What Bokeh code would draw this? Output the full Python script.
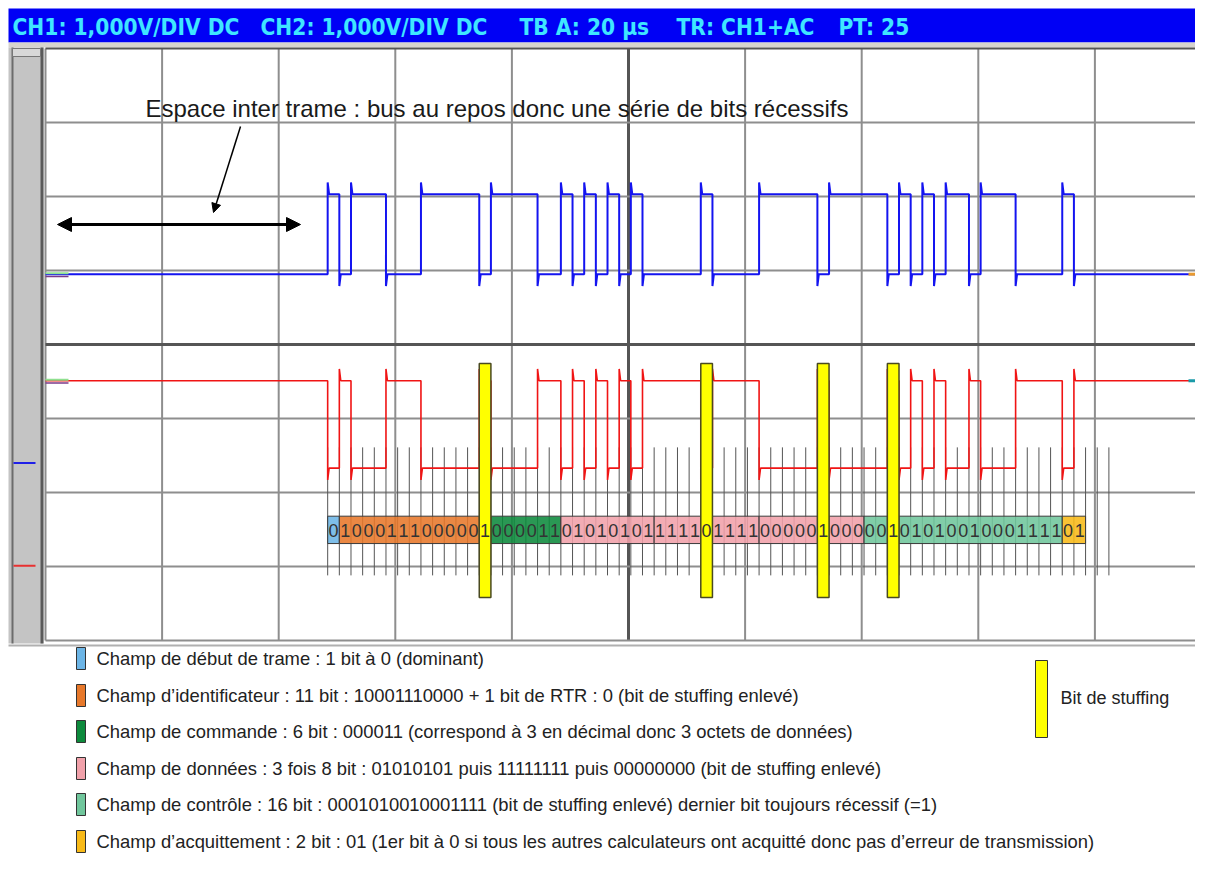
import numpy as np
from bokeh.plotting import figure
from bokeh.models import Range1d, Arrow, NormalHead
from bokeh.core.properties import value
from bokeh.embed import file_html
from bokeh.resources import INLINE

# ----------------------------- data -----------------------------
HEADER_ITEMS = ["CH1: 1,000V/DIV DC", "CH2: 1,000V/DIV DC", "TB A: 20 µs", "TR: CH1+AC", "PT: 25"]
TIME_PER_DIV = 20.0      # µs / division
X_DIVS = 10
Y_DIVS = 8
BIT_TIME = 2.0           # µs per bit (500 kbit/s)
SOF_TIME = 48.4          # µs, start of frame
FIELD_KIND = ["SOF", "ID", "STUFF", "CTRL", "DATA", "DATA", "STUFF", "DATA", "DATA",
              "STUFF", "DATA", "CRC", "STUFF", "CRC", "ACK"]
FIELD_BITS = ["0", "100011100000", "1", "000011", "01010101", "1111", "0", "1111", "00000",
              "1", "000", "00", "1", "01010010001111", "01"]
TICK_COUNT = 68
CH1_RECESSIVE, CH1_DOMINANT = 0.95, 2.03     # divisions
CH2_RECESSIVE, CH2_DOMINANT = -0.49, -1.67
CH1_REF, CH2_REF = -1.60, -2.99
ANNOTATION = "Espace inter trame : bus au repos donc une série de bits récessifs"
LEGEND_KIND = ["SOF", "ID", "CTRL", "DATA", "CRC", "ACK"]
LEGEND_TEXT = [
    "Champ de début de trame : 1 bit à 0 (dominant)",
    "Champ d’identificateur : 11 bit : 10001110000  + 1 bit de RTR : 0 (bit de stuffing enlevé)",
    "Champ de commande : 6 bit : 000011 (correspond à 3 en décimal donc 3 octets de données)",
    "Champ de données : 3 fois 8 bit : 01010101 puis 11111111 puis 00000000 (bit de stuffing enlevé)",
    "Champ de contrôle : 16 bit : 0001010010001111 (bit de stuffing enlevé) dernier bit toujours récessif (=1)",
    "Champ d’acquittement : 2 bit : 01 (1er bit à 0 si tous les autres calculateurs ont acquitté donc pas d’erreur de transmission)",
]
STUFF_LEGEND = "Bit de stuffing"

# ----------------------------- style -----------------------------
KIND_COLOR = {"SOF": "#6cb5e6", "ID": "#e7782a", "STUFF": "#ffff00", "CTRL": "#0d8a3c",
              "DATA": "#f1a1aa", "CRC": "#70c69c", "ACK": "#f8ba18"}
FONT = value("Liberation Sans")


def X(px):  # layout helper: picture pixel -> time
    return (px - 45.0) / 116.6 * TIME_PER_DIV


def Y(py):  # layout helper: picture pixel -> divisions
    return (344.0 - py) / 74.0


p = figure(width=1195, height=858, x_range=Range1d(X(0), X(1195)), y_range=Range1d(Y(858), Y(0)),
           output_backend="svg", toolbar_location=None, min_border=0,
           x_axis_location=None, y_axis_location=None,
           background_fill_color="white", border_fill_color="white")
p.grid.visible = False
p.outline_line_color = None

# header bar
p.quad(left=X(8), right=X(1211), top=Y(8), bottom=Y(42), fill_color="#0000f5", line_color=None)
p.quad(left=X(8), right=X(1211), top=Y(42), bottom=Y(47), fill_color="#d6d3ce", line_color=None)
p.text(x=[X(12), X(260), X(519), X(676), X(838)], y=[Y(26)] * 5, text=HEADER_ITEMS,
       text_font=value("DejaVu Sans Condensed"), text_font_style="bold", text_font_size="22.5px",
       text_color="#3fe6ff", text_baseline="middle", text_align="left")

# scope window: left strip
p.quad(left=X(8), right=X(43), top=Y(47), bottom=Y(643), fill_color="#c4c4c4", line_color=None)
p.segment(x0=[X(12), X(41.5)], y0=[Y(47)] * 2, x1=[X(12), X(41.5)], y1=[Y(643)] * 2,
          line_color=["#6c6c6c", "#5a5a5a"], line_width=[2, 3])
p.quad(left=X(12), right=X(40), top=Y(48), bottom=Y(56), fill_color="#d8d8d8", line_color="#777777")
p.segment(x0=[X(13), X(13)], y0=[CH1_REF, CH2_REF], x1=[X(35), X(35)], y1=[CH1_REF, CH2_REF],
          line_color=["#2020e8", "#e83030"], line_width=2)
p.segment(x0=X(8), y0=Y(645), x1=X(1211), y1=Y(645), line_color="#b0b0b0", line_width=2)

# grid
gx = np.arange(X_DIVS + 1) * TIME_PER_DIV
gy = np.arange(-Y_DIVS // 2, Y_DIVS // 2 + 1).astype(float)
p.segment(x0=gx, y0=-Y_DIVS / 2, x1=gx, y1=Y_DIVS / 2,
          line_color=["#555555" if k == X_DIVS // 2 else "#8e8e8e" for k in range(X_DIVS + 1)],
          line_width=[3 if k == X_DIVS // 2 else 2 for k in range(X_DIVS + 1)])
p.segment(x0=0, y0=gy, x1=X(1211), y1=gy,
          line_color=["#555555" if v in (0, Y_DIVS / 2) else "#8e8e8e" for v in gy],
          line_width=[3 if v == 0 else 2 for v in gy])

# bit ticks
tick_t = SOF_TIME + np.arange(TICK_COUNT) * BIT_TIME
p.segment(x0=tick_t, y0=-1.39, x1=tick_t, y1=-3.12, line_color="#555555", line_width=1)

# bit stream
bits = "".join(FIELD_BITS)
starts = np.cumsum([0] + [len(b) for b in FIELD_BITS[:-1]])
norm = [i for i, k in enumerate(FIELD_KIND) if k != "STUFF"]
stuf = [i for i, k in enumerate(FIELD_KIND) if k == "STUFF"]
left = SOF_TIME + starts * BIT_TIME
right = left + np.array([len(b) for b in FIELD_BITS]) * BIT_TIME
p.quad(left=left[norm], right=right[norm], top=-2.32, bottom=-2.69,
       fill_color=[KIND_COLOR[FIELD_KIND[i]] for i in norm], fill_alpha=0.88,
       line_color="#3a3a3a", line_width=1)


def build_trace(rec, dom, spike):
    xs, ys = [0.0], [rec]
    level = rec
    for i, b in enumerate(bits):
        new = dom if b == "0" else rec
        if new != level:
            t = SOF_TIME + i * BIT_TIME
            d = np.sign(new - level)
            xs += [t, t, t + 0.25]
            ys += [level, new + d * spike, new]
            level = new
    xs.append(TIME_PER_DIV * X_DIVS)
    ys.append(level)
    return xs, ys


bx, by = build_trace(CH1_RECESSIVE, CH1_DOMINANT, 0.16)
rx, ry = build_trace(CH2_RECESSIVE, CH2_DOMINANT, 0.16)
p.line(bx, by, line_color="#1414f0", line_width=2)
p.line(rx, ry, line_color="#f01414", line_width=1.6)

# channel start / end markers on the traces
lv = [CH1_RECESSIVE, CH2_RECESSIVE]
p.segment(x0=0, y0=[v + 0.012 for v in lv], x1=X(68), y1=[v + 0.012 for v in lv],
          line_color="#8fe08f", line_width=2)
p.segment(x0=0, y0=[v - 0.03 for v in lv], x1=X(68), y1=[v - 0.03 for v in lv],
          line_color="#7a3a8a", line_width=1.5)
p.segment(x0=X(1188), y0=lv, x1=X(1195), y1=lv, line_color=["#e89a30", "#1a9aa8"], line_width=3)

# stuffing bits on top
p.quad(left=left[stuf], right=right[stuf], top=-0.257, bottom=-3.42,
       fill_color=KIND_COLOR["STUFF"], line_color="#4a4a20", line_width=1.5)

bit_t = SOF_TIME + (np.arange(len(bits)) + 0.5) * BIT_TIME
p.text(x=bit_t, y=-2.51, text=list(bits), text_font=FONT, text_font_size="18px",
       text_color="#333333", text_align="center", text_baseline="middle")

# annotation
p.text(x=[X(145)], y=[Y(108)], text=[ANNOTATION], text_font=FONT, text_font_size="24px",
       text_color="#1a1a1a", text_baseline="middle")
p.add_layout(Arrow(start=NormalHead(size=14, fill_color="black", line_color="black"),
                   end=NormalHead(size=14, fill_color="black", line_color="black"),
                   x_start=X(57), y_start=Y(224), x_end=X(300), y_end=Y(224),
                   line_color="black", line_width=3))
p.add_layout(Arrow(end=NormalHead(size=9, fill_color="black", line_color="black"),
                   x_start=X(240), y_start=Y(126), x_end=X(213), y_end=Y(212),
                   line_color="black", line_width=1.5))

# legend
rows = [658, 695, 731, 768, 804, 841]
p.quad(left=X(76), right=X(85), top=[Y(r - 11) for r in rows], bottom=[Y(r + 11) for r in rows],
       fill_color=[KIND_COLOR[k] for k in LEGEND_KIND], line_color="#333333", line_width=1)
p.text(x=X(96), y=[Y(r) for r in rows], text=LEGEND_TEXT, text_font=FONT, text_font_size="18.4px",
       text_color="#222222", text_baseline="middle")
p.quad(left=X(1035), right=X(1047), top=Y(660), bottom=Y(737), fill_color=KIND_COLOR["STUFF"],
       line_color="#333333", line_width=1)
p.text(x=[X(1060)], y=[Y(697)], text=[STUFF_LEGEND], text_font=FONT, text_font_size="18px",
       text_color="#222222", text_baseline="middle")

open("out.html", "w").write(file_html(p, INLINE))
